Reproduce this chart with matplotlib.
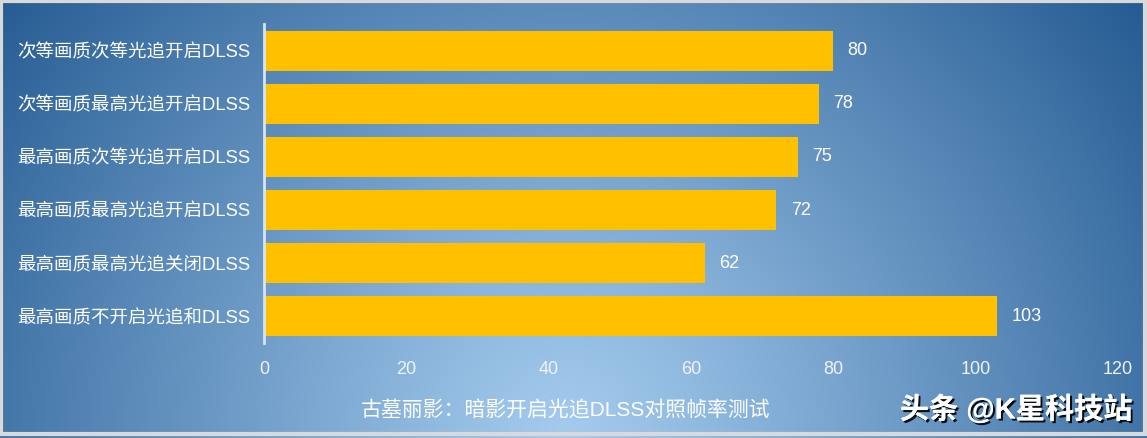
import numpy as np
import matplotlib.pyplot as plt
import matplotlib.patheffects as pe
from matplotlib.colors import to_rgb

plt.rcParams['font.family'] = ['Liberation Sans', 'Noto Sans CJK SC', 'DejaVu Sans']

# data (top to bottom)
settings = ['次等画质次等光追开启DLSS', '次等画质最高光追开启DLSS', '最高画质次等光追开启DLSS',
            '最高画质最高光追开启DLSS', '最高画质最高光追关闭DLSS', '最高画质不开启光追和DLSS']
fps = [80, 78, 75, 72, 62, 103]
x_ticks = [0, 20, 40, 60, 80, 100, 120]
title = '古墓丽影：暗影开启光追DLSS对照帧率测试'

W, H = 1147, 438
fig = plt.figure(figsize=(W / 100, H / 100), dpi=100)

# radial gradient background
bg = fig.add_axes([0, 0, 1, 1])
yy, xx = np.mgrid[0:H, 0:W]
d = np.sqrt(((xx - 565) / 720.0) ** 2 + ((yy - 430) / 700.0) ** 2)
d = np.clip(d, 0, 1) ** 1.1
c_in = np.array(to_rgb('#a4cbee'))
c_out = np.array(to_rgb('#265c93'))
img = c_in[None, None, :] * (1 - d[..., None]) + c_out[None, None, :] * d[..., None]
bg.imshow(img, aspect='auto', extent=[0, W, H, 0])
bg.set_xlim(0, W)
bg.set_ylim(H, 0)
bg.axis('off')
# light frame
bg.add_patch(plt.Rectangle((1, 1), W - 3, H - 5, fill=False, ec='#d9d9d9', lw=3))

ax = fig.add_axes([264 / W, 1 - 343 / H, (1118 - 264) / W, (343 - 24) / H])
ax.patch.set_alpha(0)
ypos = np.arange(len(settings))
ax.barh(ypos, fps, height=0.75, color='#ffc000')
for y, v in zip(ypos, fps):
    ax.text(v + 2.0, y, str(v), va='center', ha='left', color='white', fontsize=13)

ax.set_xlim(0, 120)
ax.set_ylim(len(settings) - 0.5, -0.5)
ax.set_yticks(ypos)
ax.set_yticklabels(settings, color='white', fontsize=13.3)
ax.set_xticks(x_ticks)
ax.set_xticklabels([str(t) for t in x_ticks], color='#eef4fa', fontsize=13)
ax.tick_params(length=0, pad=10)
ax.tick_params(axis='x', pad=13)
for s in ['top', 'right', 'bottom']:
    ax.spines[s].set_visible(False)
ax.spines['left'].set_color('#d6e6f5')
ax.spines['left'].set_linewidth(2)

fig.text(566 / W, 1 - 410 / H, title, ha='center', va='center', color='white', fontsize=15)

fig.text(1016 / W, 1 - 410 / H, '头条 @K星科技站', ha='center', va='center', color='white',
         fontsize=21, fontweight='bold',
         path_effects=[pe.withSimplePatchShadow(offset=(1.5, -1.5), shadow_rgbFace='black', alpha=0.9),
                       pe.Normal()])

fig.savefig('out.png', dpi=100)
